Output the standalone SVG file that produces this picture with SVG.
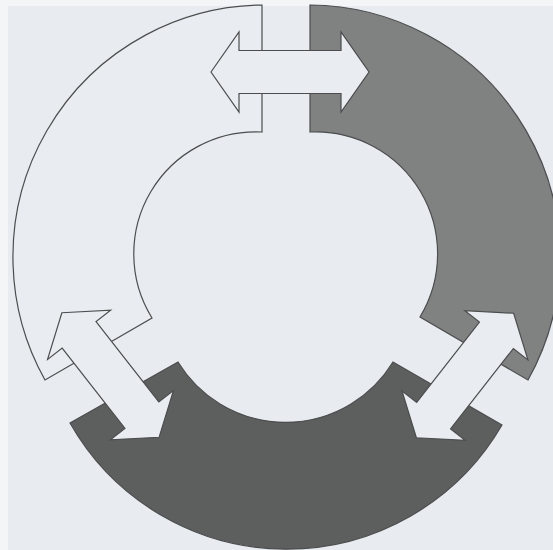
<svg xmlns="http://www.w3.org/2000/svg" width="553" height="550" viewBox="0 0 553 550">
<style>
.seg{stroke:#4b4d4e;stroke-width:1.2;stroke-linejoin:miter}
.w{fill:#e9edf1}
.g{fill:#7f8281}
.d{fill:#5c5f5e}
.arrow{fill:#e9edf1;stroke:#4b4d4e;stroke-width:1.2;stroke-linejoin:miter}
</style>
<defs>
<path id="arr" d="M-79,0 L-51,-40 L-51,-21.5 L51,-21.5 L51,-40 L79,0 L51,40 L51,21.5 L-51,21.5 L-51,40 Z"/>
</defs>
<rect width="553" height="550" fill="#f3f5f7"/>
<rect x="8" y="6" width="545" height="544" fill="#e8ecf0"/>
<g id="segment-white">
<path class="seg w" d="M262,5 A252,252 0 0 0 45,380 L152,318 A122,122 0 0 1 262,132 Z"/>
</g>
<g id="segment-gray">
<path class="seg g" d="M310,5 A252,252 0 0 1 528,380 L420,317 A122,122 0 0 0 310,132 Z"/>
</g>
<g id="segment-dark">
<path class="seg d" d="M70,423 A249,249 0 0 0 502,425 L393,362 A126,126 0 0 1 178,362 Z"/>
</g>
<g id="connectors">
<use href="#arr" class="arrow" transform="translate(290,72)"/>
<use href="#arr" class="arrow" transform="translate(110.5,375) rotate(52)"/>
<use href="#arr" class="arrow" transform="translate(465,375.5) rotate(-52)"/>
</g>
</svg>
